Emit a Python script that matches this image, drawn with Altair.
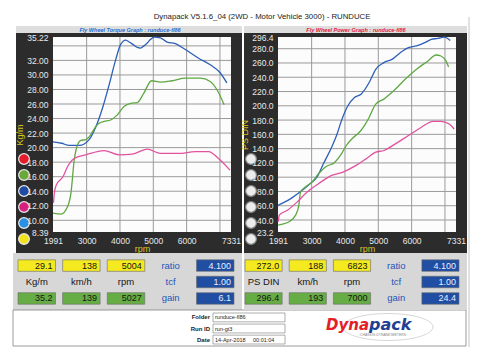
import altair as alt
import pandas as pd

FONT = "Liberation Sans"
W, H = 178, 195

# ---------------- data ----------------
title_text = "Dynapack  V5.1.6_04 (2WD - Motor Vehicle 3000) - RUNDUCE"
torque_subtitle = "Fly Wheel Torque Graph : runduce-fl86"
power_subtitle = "Fly Wheel Power Graph : runduce-fl86"

run_names = ["blue", "green", "pink"]
run_colors = ["#2d5fb8", "#5ea843", "#e2529e"]

# torque (Kg/m) vs rpm
tq_blue_rpm = [1991, 2250, 2480, 2780, 3075, 3280, 3500, 3672, 3872, 4021, 4170, 4290, 4388,
               4520, 4618, 4720, 4818, 4920, 5027, 5215, 5415, 5663, 5961, 6359, 6707, 7006, 7206]
tq_blue = [20.8, 20.6, 20.3, 20.3, 21.1, 22.9, 25.8, 28.6, 32.1, 34.2, 34.8, 34.5, 34.2,
           33.8, 33.7, 34.0, 34.4, 34.9, 35.2, 35.1, 34.5, 34.3, 33.5, 32.3, 31.4, 30.3, 28.9]
tq_green_rpm = [1991, 2230, 2430, 2528, 2628, 2728, 2827, 2976, 3125, 3275, 3374, 3523, 3722,
                3921, 4120, 4319, 4519, 4717, 4946, 5215, 5564, 5961, 6409, 6707, 6906, 7126]
tq_green = [11.0, 10.85, 11.9, 13.7, 18.3, 20.4, 21.0, 21.1, 21.8, 22.9, 23.35, 23.6, 23.8,
            24.5, 25.65, 26.1, 26.2, 27.5, 29.2, 29.0, 29.2, 29.55, 29.55, 29.1, 28.0, 25.9]
tq_pink_rpm = [2005, 2030, 2090, 2290, 2430, 2628, 2976, 3523, 3970, 4370, 4818, 5215, 5762,
               6260, 6658, 6956, 7300]
tq_pink = [12.4, 13.7, 14.85, 16.0, 17.4, 18.5, 19.0, 19.6, 19.0, 19.1, 19.8, 19.2, 19.2,
           19.45, 19.45, 18.5, 16.9]

# power (PS DIN) vs rpm
pw_blue_rpm = [1991, 2373, 2717, 2961, 3159, 3353, 3600, 3747, 3894, 4088, 4285, 4482, 4726,
               4923, 5167, 5412, 5659, 5903, 6147, 6394, 6588, 6785, 6982, 7159]
pw_blue = [60.5, 70.0, 81.7, 91.0, 100.0, 118.8, 142.0, 158.3, 179.0, 200.0, 211.7, 216.3, 232.6,
           251.2, 260.5, 265.1, 274.4, 281.4, 283.8, 288.4, 293.0, 294.4, 296.3, 291.6]
pw_green_rpm = [1991, 2323, 2520, 2617, 2667, 2814, 3012, 3206, 3403, 3697, 3894, 4041, 4235,
                4432, 4579, 4717, 4923, 5167, 5462, 5806, 6147, 6491, 6735, 6882, 7029, 7109]
pw_green = [32.9, 37.5, 46.8, 60.8, 79.3, 86.3, 93.2, 104.8, 114.0, 121.0, 132.7, 144.4, 155.0,
            163.0, 172.0, 183.0, 202.4, 209.4, 221.0, 237.2, 251.2, 262.9, 271.2, 269.8, 262.9, 254.5]
pw_pink_rpm = [2000, 2029, 2276, 2570, 2864, 3206, 3600, 3941, 4335, 4629, 4923, 5167, 5512,
               5903, 6294, 6638, 6882, 7129, 7276]
pw_pink = [37.5, 46.8, 53.8, 65.4, 79.3, 90.9, 102.5, 107.2, 116.5, 125.7, 135.0, 137.4, 146.6,
           158.3, 170.0, 178.3, 178.3, 174.5, 167.5]

rpm_domain = [1991, 7331]
rpm_labels = [1991, 3000, 4000, 5000, 6000, 7331]
rpm_grid = [3000, 4000, 5000, 6000, 7000]
torque_domain = [8.39, 35.22]
torque_labels = [8.39, 10, 12, 14, 16, 18, 20, 22, 24, 26, 28, 30, 32, 35.22]
torque_grid = [10, 12, 14, 16, 18, 20, 22, 24, 26, 28, 30, 32, 34]
power_domain = [23.2, 296.4]
power_labels = [23.2, 40, 60, 80, 100, 120, 140, 160, 180, 200, 220, 240, 260, 280, 296.4]
power_grid = [40, 60, 80, 100, 120, 140, 160, 180, 200, 220, 240, 260, 280]

button_names = ["b1", "b2", "b3", "b4", "b5", "b6"]
button_colors = ["#e61b2b", "#6aa83a", "#1f4aa6", "#d6207e", "#2a90e3", "#f2e21c"]

torque_now = ["29.1", "138", "5004"]
torque_units = ["Kg/m", "km/h", "rpm"]
torque_max = ["35.2", "139", "5027"]
torque_settings = ["4.100", "1.00", "6.1"]
power_now = ["272.0", "188", "6823"]
power_units = ["PS DIN", "km/h", "rpm"]
power_max = ["296.4", "193", "7000"]
power_settings = ["4.100", "1.00", "24.4"]
setting_names = ["ratio", "tcf", "gain"]

info_labels = ["Folder", "Run ID", "Date"]
info_values = ["runduce-fl86", "run-gt3", "14-Apr-2018"]
info_time = "00:01:04"

# ---------------- styles ----------------
DARK = "#2c2c2c"
GRID = "#9a9a9a"
LABEL = "#e8e8e8"
YTITLE = "#d8c31e"
YEL, GRN, BLU = "#f4ea1f", "#67ad45", "#1f4ea3"
ONE = pd.DataFrame({"k": [0]})


def rect(x, x2, y, y2, fill, stroke="", sw=0.0):
    props = dict(fill=fill, strokeWidth=sw)
    if stroke:
        props["stroke"] = stroke
    return alt.Chart(ONE).mark_rect(**props).encode(
        x=alt.value(x), x2=alt.value(x2), y=alt.value(y), y2=alt.value(y2))


def series_df(parts):
    rows = []
    for name, xs, ys in parts:
        rows += [{"rpm": a, "val": b, "run": name} for a, b in zip(xs, ys)]
    return pd.DataFrame(rows)


def main_layer(df, y_dom, y_labels, y_grid, yfmt, ytitle):
    xs = alt.Scale(domain=rpm_domain, nice=False, zero=False)
    ys = alt.Scale(domain=y_dom, nice=False, zero=False)
    x_axis = alt.Axis(values=rpm_labels, format="d", title="rpm", grid=False, ticks=False,
                      domain=False, labelColor=LABEL, titleColor=YTITLE, zindex=1,
                      labelPadding=4, titlePadding=0, labelFontSize=8.5, titleFontSize=9,
                      labelFont=FONT, titleFont=FONT, titleFontWeight="normal",
                      labelOverlap=False, labelFlush=False, labelBound=False)
    y_axis = alt.Axis(values=y_labels, format=yfmt, title=ytitle, grid=False, ticks=False,
                      domain=False, labelColor=LABEL, titleColor=YTITLE, zindex=1,
                      labelPadding=5, titlePadding=2, labelFontSize=8.5, titleFontSize=9,
                      labelFont=FONT, titleFont=FONT, titleFontWeight="normal",
                      labelOverlap=False, labelFlush=False, labelBound=False)
    vgrid = alt.Chart(pd.DataFrame({"rpm": rpm_grid})).mark_rule(color=GRID, strokeWidth=1).encode(
        x=alt.X("rpm:Q", scale=xs, axis=x_axis), y=alt.value(0), y2=alt.value(H))
    hgrid = alt.Chart(pd.DataFrame({"val": y_grid})).mark_rule(color=GRID, strokeWidth=1).encode(
        y=alt.Y("val:Q", scale=ys, axis=y_axis), x=alt.value(0), x2=alt.value(W))
    lines = alt.Chart(df).mark_line(strokeWidth=1.3, interpolate="monotone").encode(
        x=alt.X("rpm:Q", scale=xs, axis=x_axis),
        y=alt.Y("val:Q", scale=ys, axis=y_axis),
        color=alt.Color("run:N", scale=alt.Scale(domain=run_names, range=run_colors), legend=None))
    return alt.layer(vgrid, hgrid, lines)


def buttons(x, fills, stroke):
    df = pd.DataFrame({"btn": button_names, "c": fills})
    return alt.Chart(df).mark_point(filled=True, size=115, stroke=stroke, strokeWidth=1.2,
                                    opacity=1).encode(
        x=alt.value(x),
        y=alt.Y("btn:N", sort=None, axis=None,
                scale=alt.Scale(type="point", range=[122, 202], padding=0)),
        fill=alt.Fill("c:N", scale=None))


def readout(now_vals, units, max_vals, settings, x0, x1):
    box_df = pd.DataFrame({
        "col": ["c1", "c2", "c3", "c1", "c2", "c3", "c5", "c5", "c5"],
        "row": ["r1", "r1", "r1", "r3", "r3", "r3", "r1", "r2", "r3"],
        "kind": ["now"] * 3 + ["max"] * 3 + ["set"] * 3,
        "text": now_vals + max_vals + settings,
    })
    lab_df = pd.DataFrame({
        "col": ["c1", "c2", "c3", "c4", "c4", "c4"],
        "row": ["r2", "r2", "r2", "r1", "r2", "r3"],
        "kind": ["unit"] * 3 + ["name"] * 3,
        "text": units + setting_names,
    })
    xs = alt.Scale(domain=["c1", "c2", "c3", "c4", "c5"], range=[x0, x1],
                   paddingInner=0.16, paddingOuter=0)
    ys = alt.Scale(domain=["r1", "r2", "r3"], range=[222, 268], paddingInner=0.3,
                   paddingOuter=0.05)
    boxes = alt.Chart(box_df).mark_rect(stroke="#6a6a6a", strokeWidth=0.6).encode(
        x=alt.X("col:N", scale=xs, axis=None),
        y=alt.Y("row:N", scale=ys, axis=None),
        fill=alt.Fill("kind:N", scale=alt.Scale(domain=["now", "max", "set"],
                                                range=[YEL, GRN, BLU]), legend=None))
    box_text = alt.Chart(box_df).mark_text(align="right", dx=-3, fontSize=9, font=FONT).encode(
        x=alt.X("col:N", scale=xs, axis=None, bandPosition=1),
        y=alt.Y("row:N", scale=ys, axis=None),
        text="text:N",
        color=alt.condition(alt.datum.kind == "set", alt.value("#e8eeff"), alt.value("#151515")))
    lab_text = alt.Chart(lab_df).mark_text(fontSize=9.5, font=FONT).encode(
        x=alt.X("col:N", scale=xs, axis=None),
        y=alt.Y("row:N", scale=ys, axis=None),
        text="text:N",
        color=alt.condition(alt.datum.kind == "name", alt.value("#2156b8"), alt.value("#151515")))
    return alt.layer(boxes, box_text, lab_text)


def subtitle(text, color, x):
    return alt.Chart(ONE).mark_text(text=text, fontSize=5.5, font=FONT, fontStyle="italic",
                                    fontWeight="bold", color=color).encode(
        x=alt.value(x), y=alt.value(-7.5))


# ---------------- info box + logo (drawn in left panel) ----------------
iy = alt.Scale(domain=info_labels, range=[276, 307], paddingInner=0.2, paddingOuter=0)
info_df = pd.DataFrame({"label": info_labels, "value": info_values})
info_lab = alt.Chart(info_df).mark_text(align="right", fontSize=6, fontWeight="bold",
                                        font=FONT, color="#222").encode(
    x=alt.value(157), y=alt.Y("label:N", scale=iy, axis=None, sort=None), text="label:N")
info_box = alt.Chart(info_df).mark_rect(fill="white", stroke="#777", strokeWidth=0.6).encode(
    x=alt.value(160), x2=alt.value(232), y=alt.Y("label:N", scale=iy, axis=None, sort=None))
info_val = alt.Chart(info_df).mark_text(align="left", fontSize=5.5, font=FONT, color="#222").encode(
    x=alt.value(162), y=alt.Y("label:N", scale=iy, axis=None, sort=None), text="value:N")
time_df = pd.DataFrame({"label": ["Date"], "value": [info_time]})
info_time_t = alt.Chart(time_df).mark_text(align="left", fontSize=5.5, font=FONT, color="#222").encode(
    x=alt.value(200), y=alt.Y("label:N", scale=iy, axis=None, sort=None), text="value:N")
info_layer = alt.layer(info_box, info_lab, info_val, info_time_t)

ellipse = alt.Chart(ONE).mark_point(
    shape="M -1 0 A 1 0.3 0 1 0 1 0 A 1 0.3 0 1 0 -1 0 Z", size=8100, filled=False,
    stroke="#b8b8b8", strokeWidth=0.8).encode(x=alt.value(335), y=alt.value(290))
logo1 = alt.Chart(ONE).mark_text(text="Dyna", align="right", baseline="alphabetic", fontSize=15,
                                 fontWeight="bold", fontStyle="italic", font="DejaVu Sans",
                                 color="#e3202a").encode(x=alt.value(316), y=alt.value(293))
logo2 = alt.Chart(ONE).mark_text(text="pack", align="left", baseline="alphabetic", fontSize=16,
                                 fontWeight="bold", fontStyle="italic", font="DejaVu Sans",
                                 color="#1f3f93").encode(x=alt.value(316), y=alt.value(293))
logo3 = alt.Chart(ONE).mark_text(text="CHASSIS  DYNAMOMETERS", fontSize=3.5, font=FONT,
                                 color="#888").encode(x=alt.value(330), y=alt.value(298))

# ---------------- panels ----------------
torque_df = series_df([("blue", tq_blue_rpm, tq_blue), ("green", tq_green_rpm, tq_green),
                       ("pink", tq_pink_rpm, tq_pink)])
power_df = series_df([("blue", pw_blue_rpm, pw_blue), ("green", pw_green_rpm, pw_green),
                      ("pink", pw_pink_rpm, pw_pink)])

left = alt.layer(
    rect(-40, 189, 216, 273, "#d7d7d7"),
    rect(-40, 413, 273, 309, "white", "#808080", 0.8),
    rect(-37, 189, -4, 216, DARK),
    rect(-37, 189, -11, -4, "#dedede"),
    subtitle(torque_subtitle, "#1f6fd6", 77),
    rect(0, W, 0, H, "#fcfcfc"),
    main_layer(torque_df, torque_domain, torque_labels, torque_grid, ".2f", "Kg/m"),
    buttons(-29, button_colors, "#e8e8e8"),
    readout(torque_now, torque_units, torque_max, torque_settings, -35, 181),
    info_layer, ellipse, logo1, logo2, logo3,
).resolve_scale(x="independent", y="independent").properties(width=W, height=H)

right = alt.layer(
    rect(-34, 189, 216, 273, "#d7d7d7"),
    rect(-34, 189, -4, 216, DARK),
    rect(-34, 189, -11, -4, "#dedede"),
    subtitle(power_subtitle, "#e2203c", 78),
    rect(0, W, 0, H, "#fcfcfc"),
    main_layer(power_df, power_domain, power_labels, power_grid, ".1f", "PS DIN"),
    buttons(-27, ["#ececec"] * 6, "#8a8a8a"),
    readout(power_now, power_units, power_max, power_settings, -33, 181),
    alt.Chart(ONE).mark_rule(color="#c4c4c4", strokeWidth=1).encode(
        x=alt.value(191), y=alt.value(-20), y2=alt.value(310)),
).resolve_scale(x="independent", y="independent").properties(width=W, height=H)

chart = alt.hconcat(left, right, spacing=47, bounds="flush").properties(
    title=alt.TitleParams(text=title_text, fontSize=7.8, font=FONT, fontWeight="normal",
                          color="#222", anchor="middle", offset=-5, dx=21),
    padding={"left": 4, "top": 5, "right": 0, "bottom": 0},
).configure_view(stroke="transparent").configure(background="white")

chart.save("out.html", embed_options={"renderer": "svg", "actions": False})
